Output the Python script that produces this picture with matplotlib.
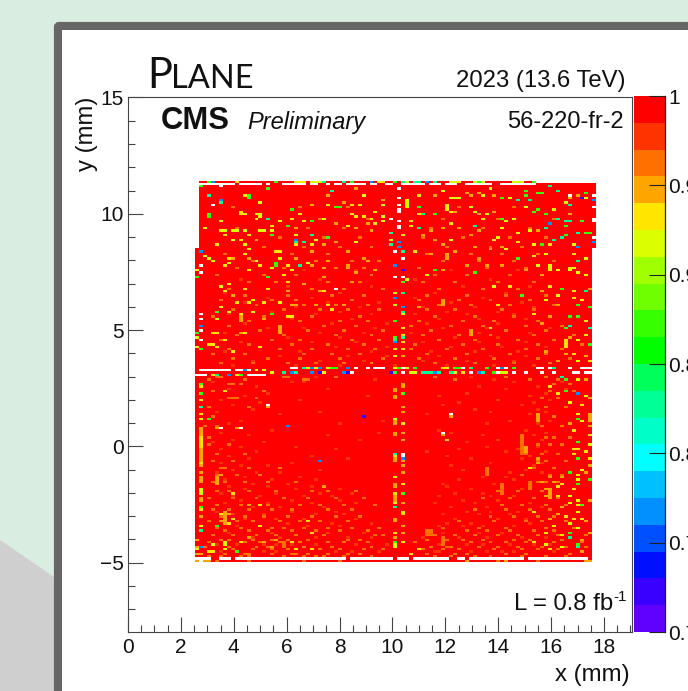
import numpy as np
import matplotlib
matplotlib.use("Agg")
import matplotlib.pyplot as plt
from matplotlib.colors import ListedColormap, BoundaryNorm
from matplotlib.patches import FancyBboxPatch, Polygon, Rectangle
from matplotlib.ticker import MultipleLocator

# ---------- palette and scale ----------
band_colors = ["#6000ff", "#3a00ff", "#0010ff", "#0050ff", "#0090ff", "#00c0ff", "#00ffff",
               "#00ffc8", "#00ff96", "#00ff5a", "#00ff00", "#35ff00", "#70ff00", "#a0ff00",
               "#dcff00", "#ffe600", "#ffa500", "#ff7000", "#ff3300", "#ff0000"]
cbar_ticks = [0.7, 0.75, 0.8, 0.85, 0.9, 0.95, 1.0]
cbar_labels = ["0.7", "0.75", "0.8", "0.85", "0.9", "0.95", "1"]

# ---------- efficiency levels of the off-peak cells ----------
EFF_REDORANGE, EFF_ORANGE, EFF_AMBER, EFF_YELLOW = 0.98, 0.965, 0.95, 0.935
EFF_LIME, EFF_GREEN, EFF_CYAN, EFF_BLUE, EFF_VIOLET = 0.91, 0.875, 0.82, 0.76, 0.72

# map shape (col, row); the upper rows are shifted one column to the right
n_cols, n_rows = 102, 164
shift_row = 135
top_row_last_col = 85

white_cells = [(4,153),(1,127),(1,124),(35,117),(1,106),(1,104),(1,99),(1,95),(50,133),(52,130),(50,122),(52,122),
 (51,160),(51,156),(51,153),(51,151),(51,150),(49,147),(51,146),(51,144),(51,143),(94,157),(100,157),(100,152),(100,147),
 (100,146),(100,139),(18,67),(6,57),(11,57),(52,46),(52,45),(64,63),(62,55),(6,161)]
yellow_cells = [(12,157),(11,150),(12,149),(33,153),(39,153),(41,153),(39,149),(40,148),(42,148),(45,150),(44,147),(38,144),
 (45,145),(7,140),(13,140),(11,138),(5,136),(19,144),(19,140),(24,147),(26,149),(27,146),(25,136),(29,136),(8,130),(7,127),
 (12,132),(13,134),(16,127),(13,125),(19,126),(23,127),(24,125),(20,133),(21,133),(22,123),(23,120),(8,119),(7,116),(12,117),
 (18,117),(32,116),(10,111),(13,111),(17,111),(33,110),(34,108),(6,109),(11,106),(23,105),(24,105),(12,98),(3,93),(4,93),(7,95),
 (4,98),(5,98),(5,92),(9,90),(16,92),(52,100),(52,97),(52,94),(52,91),(50,88),(56,157),(63,153),(63,152),(64,150),(72,157),
 (72,147),(56,149),(64,145),(54,146),(54,144),(52,140),(75,138),(81,137),(89,136),(55,133),(85,131),(94,126),(95,132),(100,125),
 (89,118),(79,118),(95,116),(95,113),(76,110),(85,106),(98,103),(74,100),(98,97),(93,94),(93,93),(95,89),(99,86),(1,75),(1,69),(1,63),
 (7,73),(1,53),(1,52),(1,51),(1,50),(1,49),(1,42),(1,22),(6,20),(9,18),(8,16),(16,24),(16,15),(28,17),(29,12),(25,5),(29,5),(24,8),
 (11,8),(0,5),(3,4),(4,4),(50,45),(52,59),(50,36),(52,33),(50,29),(52,21),(52,20),(50,12),(52,8),(89,75),(91,72),(97,67),(95,56),(99,54),
 (95,48),(96,48),(98,47),(95,46),(99,44),(84,40),(96,37),(92,33),(91,32),(95,31),(91,28),(96,24),(85,21),(93,19),(97,18),(95,18),
 (90,15),(88,12),(92,11),(85,8),(89,5),(56,5),(63,52),(52,72),(54,3),(98,71),(9,29)]
lime_cells = [(16,154),(47,153),(15,149),(16,149),(42,157),(47,148),(32,147),(47,146),(49,138),(40,137),(30,138),(25,140),(6,142),(7,142),
 (9,142),(10,142),(12,142),(16,142),(17,142),(19,142),(9,138),(12,136),(2,143),(6,146),(15,147),(21,146),(2,131),(3,130),(4,129),(0,125),
 (8,128),(15,129),(28,128),(21,130),(6,118),(14,112),(21,111),(8,107),(14,107),(5,104),(0,96),(0,92),(52,106),(50,115),(50,110),(50,91),
 (53,154),(64,156),(65,156),(66,156),(62,159),(74,160),(98,156),(79,156),(69,152),(70,150),(73,149),(83,152),(90,151),(93,154),(78,146),(80,147),
 (84,142),(81,141),(77,143),(64,138),(76,139),(85,136),(95,136),(78,134),(88,132),(89,126),(86,127),(91,125),(94,125),(98,130),(95,126),(96,124),
 (98,123),(58,123),(53,121),(75,118),(91,114),(88,112),(97,112),(96,95),(96,86),(96,78),(1,61),(1,31),(1,30),(1,29),(1,15),(7,8),(7,7),(7,5),
 (4,7),(50,61),(52,72),(50,25),(50,7),(50,6),(94,68),(96,63),(97,60),(98,71),(100,71),(99,50),(97,39),(96,35),(94,28),(96,26),(94,25),(96,21),
 (94,16),(96,14),(88,7),(92,6)]
green_cells = [(13,156),(13,157),(3,149),(3,148),(29,146),(23,144),(19,140),(33,139),(20,127),(20,128),(18,122),(24,151),(18,160),(35,152),
 (36,152),(1,161),(0,122),(5,107),(19,106),(0,98),(1,91),(52,120),(50,103),(50,96),(56,152),(60,149),(83,159),(83,157),(86,158),(87,158),(77,156),
 (98,158),(85,150),(86,151),(88,149),(77,147),(97,146),(93,144),(93,140),(87,136),(98,141),(99,141),(81,130),(60,125),(70,124),(92,117),(82,114),(96,110),
 (99,109),(94,105),(96,105),(93,100),(99,93),(93,78),(1,76),(1,72),(3,61),(1,23),(5,15),(10,4),(52,72),(52,29),(50,8),(93,73),(96,61),(100,56),
 (96,51),(96,44),(94,38),(99,35),(96,33),(97,24),(100,22),(100,13),(94,12),(96,7),(100,3)]
cyan_cells = [(3,157),(34,159),(18,147),(29,140),(49,141),(26,127),(49,136),(52,115),(52,107),(52,96),(50,95),(50,46),(1,66),(1,13),(91,159),(89,161),
 (81,155),(84,155),(94,153),(57,149),(93,146),(94,146),(91,147),(88,143),(70,144),(56,143),(92,139),(90,138),(96,141),(52,133),(96,129),(98,116),
 (94,101),(99,100),(92,79),(94,10),(96,6),(50,23),(6,154),(25,137),(27,137)]
blue_cells = [(6,155),(1,133),(1,101),(50,113),(52,109),(51,137),(51,135),(50,94),(50,127),(100,155),(89,145),(96,135),(100,137),(52,109),(23,58),
 (31,43),(1,6),(96,72),(52,44),(25,138)]
violet_cells = [(52,125),(97,156),(42,62)]
amber_cells = [(29,153),(33,157),(37,154),(40,160),(47,155),(35,145),(40,143),(43,145),(44,142),(32,136),(35,137),(38,133),(13,130),(9,130),(25,143),
 (15,138),(23,116),(29,133),(25,130),(29,127),(33,129),(32,126),(38,127),(42,130),(43,129),(45,125),(40,124),(38,126),(39,120),(32,122),(27,119),(31,116),(9,114),
 (24,110),(25,110),(30,110),(37,110),(17,104),(11,98),(60,157),(68,158),(69,157),(71,158),(75,157),(71,149),(65,150),(75,150),(96,157),(94,156),(94,149),(86,142),
 (66,143),(62,143),(59,142),(57,140),(60,138),(62,136),(69,140),(71,142),(59,132),(63,132),(65,133),(70,135),(74,134),(77,135),(87,123),(83,125),(77,127),(73,127),
 (71,130),(62,125),(68,127),(99,117),(87,116),(91,110),(62,112),(56,109),(89,105),(100,107),(87,102),(94,96),(88,90),(91,86),(93,89),(98,88),(98,78),(89,75),
 (18,66),(5,57),(10,57),(32,32),(64,62),(62,54),(94,59),(98,38),(92,36),(52,88),(50,33),(50,32),(50,18),(50,74),(50,73),(50,71),(50,70),(50,60),(50,59),(52,76),(52,75),
 (52,66),(52,64),(52,55),(52,52),(52,43),(52,41),(52,38),(50,55),(50,54),(50,44),(50,43),(50,28),(50,27),(50,26),(50,17),(50,10),(52,25),(52,15),(52,12),(1,57),(1,56),
 (1,55),(1,54),(1,48),(1,47),(1,41),(1,38),(1,27),(1,26),(1,19),(0,9),(0,6),(0,3),(1,3),(99,70),(100,66),(100,60),(99,58),(100,46),(99,41),(100,38),(100,30),(99,26),(98,17),
 (99,12),(97,9),(100,7),(97,4),(92,23),(91,20),(89,18),(88,31),(89,29),(88,28),(86,44),(86,42),(83,49),(83,48),(83,47),(89,36),(87,34),(90,34),(6,37),(5,35),(8,20),(6,17),(13,10),(20,9),(13,24),(19,6),(17,8)]

orange_by_row = {
 2:[3,6,11,13,22,27,30,32,37,44,60,64,70,74,82,88,93], 3:[7,12,13,19,24,25,28,33,38,41,58,65,68,78,83,94],
 5:[9,14,19,23,31,36,42,47,57,62,66,75,82,86,91], 6:[2,8,15,18,22,27,34,44,59,63,64,71,76,81,87,93,98],
 8:[3,12,16,21,26,33,37,43,55,69,74,78,83,90,97], 9:[6,8,14,19,23,28,38,41,58,63,67,72,80,84,92],
 11:[4,9,15,20,25,32,45,47,60,65,70,76,81,86,91,98], 13:[7,13,18,24,30,36,43,59,68,73,79,85,90], 14:[5,11,19,22,27,33,39,46,62,71,78,88,95],
 17:[3,10,14,21,26,31,38,66,75,83,87,93], 19:[6,12,17,23,29,35,41,74,80,86,90], 22:[4,8,13,19,24,33,39,70,78,84,89], 24:[5,11,18,26,31,37,45,77,82,88,93],
 27:[3,9,15,22,28,35,42,72,79,85,91], 30:[5,8,13,20,29,33,40,76,81,87], 34:[4,7,12,18,25,86,88,91], 37:[5,6,10,16,82,89,92], 40:[6,7,13,21,85,90],
 43:[4,9,86,88,93], 46:[5,12,83,87,91], 50:[3,8,86,89,92], 53:[3,88,90,94], 58:[2,5,87,92], 62:[4,86,90], 66:[3,13,88,93], 70:[8,9,10,15,87,91], 73:[4,17,89,95], 76:[8,9,11,90,94],
 78:[3,12,27,28,65,84,91], 79:[5,6,22,23,35,60,78,88], 85:[6,14,23,30,37,44,60,70,80,89], 87:[9,18,26,36,47,56,65,75,86,94], 89:[4,12,27,34,41,58,68,79,88], 91:[8,21,29,38,45,54,63,72,83,92],
 93:[13,24,33,42,55,67,76,86,97], 95:[6,19,26,39,46,61,70,81,90], 97:[10,22,35,44,57,66,74,85,95], 99:[16,28,37,47,59,69,78,88], 101:[8,21,32,40,54,64,72,83,92],
 103:[13,26,36,43,56,67,75,86], 105:[4,17,29,41,60,70,80,89], 108:[9,22,31,38,46,58,65,77,85], 110:[15,27,35,43,61,69,79,90], 112:[6,19,25,39,56,66,74,84], 114:[12,23,34,42,58,68,78,88],
 117:[8,29,37,47,61,72,81], 120:[13,20,33,41,57,65,76,85], 123:[5,17,25,44,60,68,79], 126:[10,22,35,42,56,73,83], 129:[14,30,39,46,62,71,80,90], 132:[7,24,33,58,69,77,86],
 135:[17,27,36,44,63,74,82], 139:[21,32,41,57,67,79,88], 143:[10,28,37,59,72,84], 147:[15,31,43,62,76,90], 152:[9,26,38,66,80]}
redorange_by_row = {
 4:[6,17,20,35,39,46,60,61,69,73,77,80,90], 7:[5,10,17,20,24,30,40,48,61,62,68,72,79,85,89], 10:[14,21,30,38,44,57,66,73,82,88], 12:[8,19,33,42,62,71,77],
 15:[10,16,28,36,61,67,72,80], 16:[7,23,34,44,63,69,84], 18:[12,20,27,40,65,76,83], 20:[9,17,30,37,62,71,79], 21:[5,24,35,68,74,81], 23:[14,21,32,64,73,87], 25:[7,18,29,40,60,70,84],
 26:[11,24,36,67,76], 28:[9,16,27,34,61,74,80], 29:[6,20,31,39,65,72], 31:[12,25,36,69,82], 32:[8,18,29,63,77], 33:[14,23,62,75,84], 35:[7,19,30,66,80], 36:[12,26,72,78], 38:[5,15,21,79,87],
 39:[9,31,67,83], 41:[11,18,64,85], 42:[6,24,74,87], 44:[13,38,69,82], 45:[8,29,63,84], 47:[15,58,78,88], 48:[6,35,66,81], 49:[11,25,73,86], 51:[4,17,68,82], 52:[9,41,76,87], 54:[13,33,72,85],
 55:[6,46,64,88], 56:[19,61,83], 59:[8,36,73,86], 60:[11,47,79,89], 63:[21,58,84], 64:[5,31,74,88], 65:[14,70,86], 67:[9,62,82], 68:[16,66,85], 69:[6,26,76,89], 71:[12,43,61,84], 72:[18,68,88], 74:[8,33,78,93], 75:[15,71,86],
 77:[4,24,27,80,92], 78:[45,75], 79:[30,69], 84:[9,25,36,50,63,75,85], 86:[14,31,42,57,68,80], 88:[21,38,48,61,74,83], 90:[7,26,44,59,70,81], 92:[16,35,48,64,77,88], 94:[11,29,40,57,71,83], 96:[23,36,50,65,76],
 98:[7,31,42,54,71,84], 100:[18,27,45,62,73,89], 102:[12,34,48,58,76], 104:[24,39,61,71,83], 106:[8,30,44,55,68,80], 107:[19,36,63,76], 109:[25,41,57,70,85], 111:[12,33,46,64,82], 113:[18,29,55,72], 115:[7,36,60,78], 118:[23,44,67,84], 121:[11,31,55,74], 125:[27,40,64,81]}

# vertical streaks: (col, first row, last row)
amber_streaks = [(21,98,101),(11,103,106),(69,97,99),(62,110,112),(63,130,132),(86,60,63),(89,27,31),(5,33,36),(7,16,21),(1,34,36),(1,43,46),(99,60,63)]
orange_streaks = [(82,46,54),(77,29,33),(58,11,13),(59,11,13),(62,7,10),(22,6,8),(84,31,34),(73,37,40)]
yellow_streaks = [(93,92,95),(63,151,153),(11,149,150)]
lime_streaks = [(89,125,127),(53,152,155),(16,148,149)]

# whole-row defect segments: (row, first col, last col)
top_colored = {3:EFF_GREEN,4:EFF_BLUE,10:EFF_YELLOW,20:EFF_GREEN,25:EFF_YELLOW,26:EFF_YELLOW,27:EFF_YELLOW,29:EFF_LIME,30:EFF_LIME,31:EFF_LIME,32:EFF_CYAN,37:EFF_CYAN,39:EFF_GREEN,44:EFF_BLUE,46:EFF_LIME,47:EFF_YELLOW,
 50:EFF_GREEN,52:EFF_CYAN,53:EFF_LIME,55:EFF_CYAN,56:EFF_CYAN,58:EFF_BLUE,60:EFF_CYAN,64:EFF_LIME,65:EFF_LIME,66:EFF_YELLOW,70:EFF_LIME,71:EFF_GREEN,72:EFF_LIME,80:EFF_LIME,81:EFF_LIME,82:EFF_LIME,85:EFF_GREEN}
white_runs = [(162,1,9),(162,11,16),(162,18,18),(162,22,27),(162,29,30),(162,33,33),(162,35,36),(162,38,42),(162,44,45),(162,48,49),(162,52,57),(162,59,61),(162,63,65),(162,68,74),(162,77,81),(162,82,85),
 (82,1,8),(82,10,11),(82,13,13),(80,0,2),(80,13,17),(83,24,25),(83,40,40),(83,43,43),(83,45,47),(83,52,52),(83,67,67),(83,76,76),(83,78,78),(83,86,87),(83,89,89),(83,94,94),(83,97,97),(83,98,99),
 (81,39,39),(81,52,52),(81,69,69),(81,76,76),(81,80,80),(81,83,83),(81,87,87),(81,90,90),(81,95,96),(81,98,100),
 (1,0,3),(1,6,8),(1,10,26),(1,27,37),(1,39,49),(1,51,53),(1,55,58),(1,59,63),(1,66,67),(1,69,82),(1,84,98),(0,1,1)]
defect_colored = [(83,27,EFF_CYAN),(83,28,EFF_LIME),(83,29,EFF_BLUE),(83,30,EFF_YELLOW),(83,31,EFF_BLUE),(83,33,EFF_LIME),(83,34,EFF_GREEN),(83,35,EFF_GREEN),(83,38,EFF_BLUE),(83,50,EFF_LIME),(83,51,EFF_GREEN),(83,53,EFF_LIME),(83,55,EFF_GREEN),
 (83,62,EFF_YELLOW),(83,63,EFF_YELLOW),(83,65,EFF_GREEN),(83,66,EFF_GREEN),(83,69,EFF_CYAN),(83,73,EFF_GREEN),(83,77,EFF_BLUE),(83,80,EFF_GREEN),(83,90,EFF_CYAN),
 (82,12,EFF_BLUE),(82,15,EFF_LIME),(82,17,EFF_LIME),(81,19,EFF_LIME),(81,22,EFF_CYAN),(81,24,EFF_BLUE),(81,25,EFF_CYAN),(81,29,EFF_BLUE),(81,31,EFF_VIOLET),(81,32,EFF_LIME),(81,37,EFF_BLUE),(81,38,EFF_VIOLET),(81,49,EFF_VIOLET),(81,50,EFF_GREEN),(81,52,EFF_VIOLET),
 (81,54,EFF_LIME),(81,55,EFF_LIME),(81,57,EFF_CYAN),(81,58,EFF_CYAN),(81,59,EFF_CYAN),(81,60,EFF_BLUE),(81,61,EFF_CYAN),(81,64,EFF_CYAN),(81,65,EFF_LIME),(81,67,EFF_YELLOW),(81,71,EFF_BLUE),(81,72,EFF_CYAN),(81,75,EFF_GREEN),(81,77,EFF_LIME),(81,78,EFF_LIME),
 (80,4,EFF_YELLOW),(80,5,EFF_CYAN),(80,8,EFF_BLUE),(80,10,EFF_LIME),(80,11,EFF_GREEN),(0,0,EFF_AMBER),(0,2,EFF_AMBER),(0,3,EFF_AMBER),(0,5,EFF_ORANGE),(0,13,EFF_ORANGE),(0,27,EFF_ORANGE),(0,36,EFF_ORANGE),(0,68,EFF_AMBER),(0,76,EFF_ORANGE),(0,78,EFF_AMBER),(0,86,EFF_ORANGE),(0,98,EFF_AMBER),(0,99,EFF_AMBER)]

# ---------- build the map ----------
eff = np.ones((n_rows, n_cols))
eff[shift_row:, 0] = np.nan
eff[shift_row:, 101:] = np.nan
eff[:shift_row, 100:] = np.nan
eff[163, top_row_last_col + 1:] = np.nan

def put(cells, value):
    for c, r in cells:
        if np.isfinite(eff[r, c]) or np.isnan(value):
            eff[r, c] = value

def streaks(spans, value):
    for c, r0, r1 in spans:
        put([(c, r) for r in range(r0, r1 + 1)], value)

for row, cols in orange_by_row.items():
    put([(c, row) for c in cols], EFF_ORANGE)
for row, cols in redorange_by_row.items():
    put([(c, row) for c in cols], EFF_REDORANGE)
streaks(orange_streaks, EFF_ORANGE)
streaks(amber_streaks, EFF_AMBER)
put(amber_cells, EFF_AMBER)
streaks(yellow_streaks, EFF_YELLOW)
put(yellow_cells, EFF_YELLOW)
streaks(lime_streaks, EFF_LIME)
put(lime_cells, EFF_LIME)
put(green_cells, EFF_GREEN)
put(cyan_cells, EFF_CYAN)
put(blue_cells, EFF_BLUE)
put(violet_cells, EFF_VIOLET)
for c, v in top_colored.items():
    eff[163, c] = v
for r, c, v in defect_colored:
    eff[r, c] = v
for r, c0, c1 in white_runs:
    eff[r, c0:c1 + 1] = np.nan
put(white_cells, np.nan)

# ---------- figure ----------
W, H = 688, 691
fig = plt.figure(figsize=(W / 100, H / 100), dpi=100, facecolor="#d9ede1")
plt.rcParams["font.family"] = ["Liberation Sans", "DejaVu Sans"]

def px_axes(x0, y0, x1, y1, **kw):
    return fig.add_axes([x0 / W, 1 - y1 / H, (x1 - x0) / W, (y1 - y0) / H], **kw)

bg = px_axes(0, 0, W, H, zorder=0)
bg.set_xlim(0, W); bg.set_ylim(H, 0); bg.axis("off")
bg.add_patch(Polygon([(0, 540), (54, 577), (54, 691), (0, 691)], fc="#cfcfcf", ec="none"))
bg.add_patch(FancyBboxPatch((56, 24), 700, 700, boxstyle="round,pad=0,rounding_size=3", fc="#666666", ec="#666666", lw=3))
bg.add_patch(Rectangle((62, 30), 700, 700, fc="white", ec="none"))

ax = px_axes(128, 97, 632, 632, zorder=2)
ax.set_xlim(0, 19.06); ax.set_ylim(-7.98, 15.02)
cmap = ListedColormap(band_colors)
cmap.set_bad((1, 1, 1, 0))
norm = BoundaryNorm(np.linspace(0.7, 1.0, 21), cmap.N)
x_edges = 2.534 + 0.15 * np.arange(n_cols + 1)
y_edges = -4.97 + 0.1 * np.arange(n_rows + 1)
ax.pcolormesh(x_edges, y_edges, np.ma.masked_invalid(eff), cmap=cmap, norm=norm, linewidth=0, rasterized=True)

edge = "#444444"
for s in ax.spines.values():
    s.set_color(edge); s.set_linewidth(0.8)
ax.xaxis.set_major_locator(MultipleLocator(2)); ax.xaxis.set_minor_locator(MultipleLocator(0.5))
ax.yaxis.set_major_locator(MultipleLocator(5)); ax.yaxis.set_minor_locator(MultipleLocator(1))
ax.tick_params(which="major", direction="in", length=11, width=0.8, color=edge, labelsize=15, labelcolor="#111111")
ax.tick_params(which="minor", direction="in", length=5.3, width=0.8, color=edge)
ax.tick_params(axis="x", which="major", pad=4.5)
ax.tick_params(axis="y", which="major", pad=3)
ax.set_xticks(np.arange(0, 20, 2))
ax.set_yticks([-5, 0, 5, 10, 15])
ax.set_yticklabels(["\u22125", "0", "5", "10", "15"])

cax = px_axes(634, 96, 664.5, 632, zorder=2)
cax.pcolormesh([0, 1], np.linspace(0.7, 1.0, 21), np.linspace(0.7075, 0.9925, 20)[:, None], cmap=cmap, norm=norm, linewidth=0, rasterized=True)
cax.set_xlim(0, 1); cax.set_ylim(0.7, 1.0); cax.set_xticks([])
for name, s in cax.spines.items():
    s.set_visible(name == "right"); s.set_color("#222222"); s.set_linewidth(0.9)
cax.yaxis.tick_right()
cax.set_yticks(cbar_ticks); cax.set_yticklabels(cbar_labels)
cax.tick_params(axis="y", direction="in", length=11.5, width=0.8, color="#222222", labelsize=15, labelcolor="#111111", pad=2.5)

top = px_axes(0, 0, W, H, zorder=3)
top.set_xlim(0, W); top.set_ylim(H, 0); top.axis("off"); top.patch.set_alpha(0)
def T(x, y, s, **kw):
    kw.setdefault("color", "#111111")
    return top.text(x, y, s, **kw)

T(147, 87.5, "P", fontsize=30, family="Lato", ha="left", va="baseline")
T(171, 87.5, "LANE", fontsize=23.5, family="Lato", ha="left", va="baseline")
T(625, 81, "2023 (13.6 TeV)", fontsize=17.2, ha="right", va="center")
T(161, 120.5, "CMS", fontsize=22.3, fontweight="bold", ha="left", va="center")
T(247, 122, "Preliminary", fontsize=17, fontstyle="italic", ha="left", va="center")
T(624, 122, "56-220-fr-2", fontsize=17, ha="right", va="center")
T(613, 604, "L = 0.8 fb", fontsize=17.2, ha="right", va="center")
T(613, 597, "-1", fontsize=11, ha="left", va="center")
T(630, 675, "x (mm)", fontsize=17.3, ha="right", va="center")
T(87, 97, "y (mm)", fontsize=17.2, rotation=90, ha="center", va="top")

fig.savefig("out.png", dpi=100, facecolor=fig.get_facecolor())
